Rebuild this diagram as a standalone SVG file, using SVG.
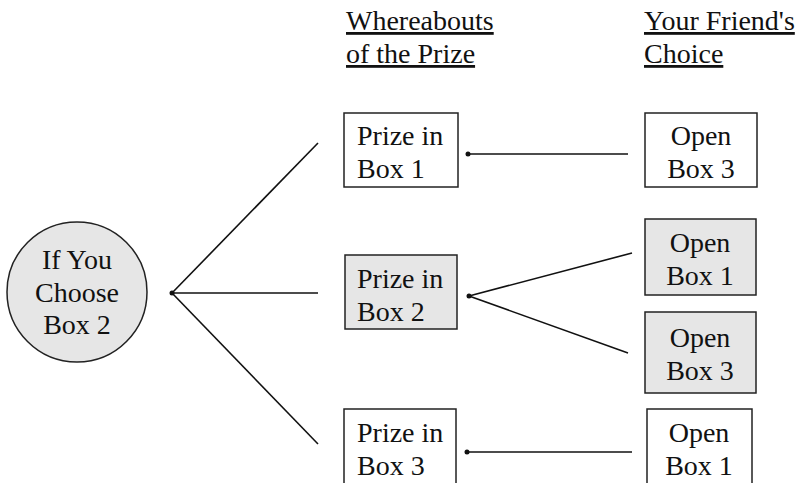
<svg xmlns="http://www.w3.org/2000/svg" width="801" height="483" viewBox="0 0 801 483">
<style>
text{font-family:"Liberation Serif","Times New Roman",serif;font-size:28px;fill:#111}
.box{stroke:#222;stroke-width:1.5}
.w{fill:#fff}
.g{fill:#e6e6e6}
.ln{stroke:#111;stroke-width:1.6;fill:none}
.hd{text-decoration:underline}
</style>
<rect width="801" height="483" fill="#fff"/>
<g id="headers">
<text x="346" y="30" class="hd">Whereabouts</text>
<text x="346" y="63" class="hd">of the Prize</text>
<text x="644" y="30" class="hd">Your Friend's</text>
<text x="644" y="63" class="hd">Choice</text>
</g>
<g id="connectors">
<line class="ln" x1="172" y1="293" x2="318" y2="143"/>
<line class="ln" x1="172" y1="293" x2="318" y2="293"/>
<line class="ln" x1="172" y1="293" x2="318" y2="444"/>
<line class="ln" x1="468" y1="154" x2="628" y2="154"/>
<line class="ln" x1="469" y1="296" x2="632" y2="253"/>
<line class="ln" x1="469" y1="296" x2="628" y2="353"/>
<line class="ln" x1="467" y1="452" x2="632" y2="452"/>
<circle cx="172" cy="293" r="2.5" fill="#111"/>
<circle cx="468" cy="154" r="2.5" fill="#111"/>
<circle cx="469" cy="296" r="2.5" fill="#111"/>
<circle cx="467" cy="452" r="2.5" fill="#111"/>
</g>
<g id="start">
<circle cx="77" cy="292" r="70" class="box g"/>
<text x="77" y="269" text-anchor="middle">If You</text>
<text x="77" y="302" text-anchor="middle">Choose</text>
<text x="77" y="334" text-anchor="middle">Box 2</text>
</g>
<g id="prize1">
<rect x="344" y="113" width="114" height="74" class="box w"/>
<text x="357" y="145">Prize in</text>
<text x="357" y="178">Box 1</text>
</g>
<g id="prize2">
<rect x="345" y="255" width="112" height="74" class="box g"/>
<text x="357" y="288">Prize in</text>
<text x="357" y="321">Box 2</text>
</g>
<g id="prize3">
<rect x="344" y="409" width="112" height="80" class="box w"/>
<text x="357" y="442">Prize in</text>
<text x="357" y="475">Box 3</text>
</g>
<g id="open3a">
<rect x="645" y="113" width="112" height="74" class="box w"/>
<text x="701" y="145" text-anchor="middle">Open</text>
<text x="701" y="178" text-anchor="middle">Box 3</text>
</g>
<g id="open1a">
<rect x="645" y="219" width="111" height="76" class="box g"/>
<text x="700" y="252" text-anchor="middle">Open</text>
<text x="700" y="285" text-anchor="middle">Box 1</text>
</g>
<g id="open3b">
<rect x="645" y="312" width="111" height="81" class="box g"/>
<text x="700" y="347" text-anchor="middle">Open</text>
<text x="700" y="380" text-anchor="middle">Box 3</text>
</g>
<g id="open1b">
<rect x="647" y="409" width="105" height="80" class="box w"/>
<text x="699" y="442" text-anchor="middle">Open</text>
<text x="699" y="475" text-anchor="middle">Box 1</text>
</g>
</svg>
